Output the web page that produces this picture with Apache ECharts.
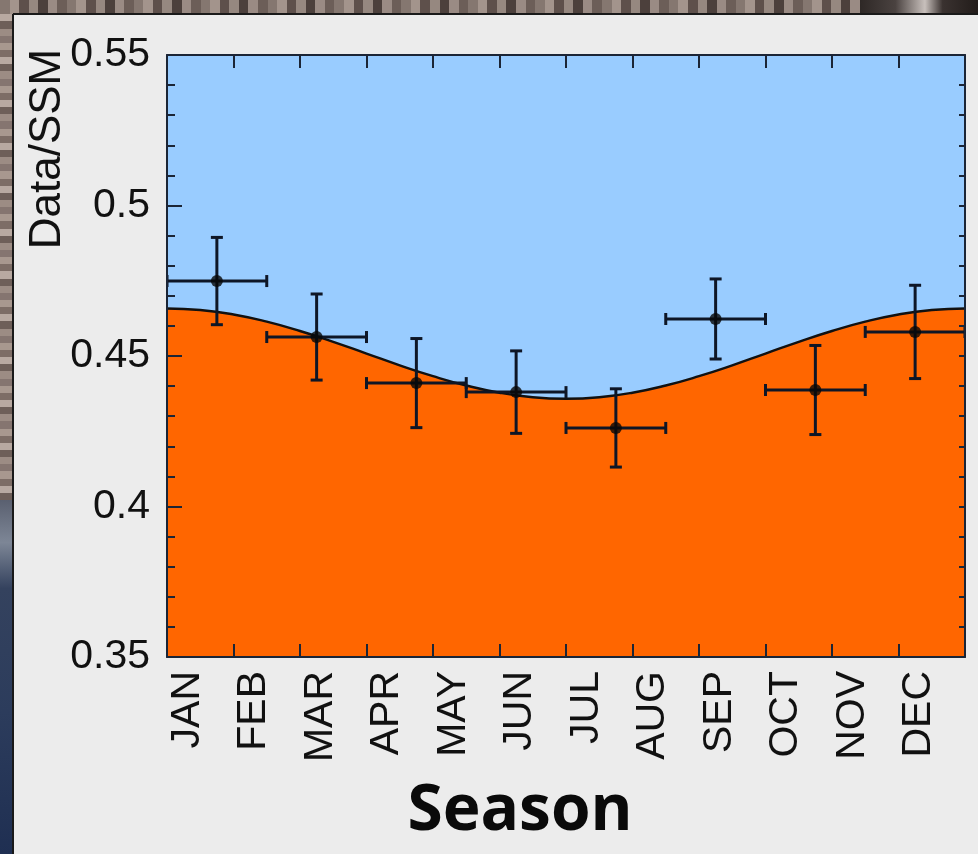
<!DOCTYPE html>
<html>
<head>
<meta charset="utf-8">
<script src="https://cdn.jsdelivr.net/npm/echarts@6/dist/echarts.min.js"></script>
<style>
html,body{margin:0;padding:0;background:#ececec;}
#chart{width:978px;height:854px;}
</style>
</head>
<body>
<div id="chart"></div>
<script>
// ---- data ----
const months = ['JAN','FEB','MAR','APR','MAY','JUN','JUL','AUG','SEP','OCT','NOV','DEC'];
const yTickLabels = ['0.35','0.4','0.45','0.5','0.55'];

// model curve (months since Jan 1 -> Data/SSM)
const curveX = [0,0.5,1,1.5,2,2.5,3,3.5,4,4.5,5,5.5,6,6.5,7,7.5,8,8.5,9,9.5,10,10.5,11,11.5,12];
const curveY = [0.4658,0.4653,0.4638,0.4614,0.4583,0.4547,0.4508,0.4469,0.4433,0.4402,0.4378,0.4363,0.4358,
                0.4363,0.4378,0.4402,0.4433,0.4469,0.4508,0.4547,0.4583,0.4614,0.4638,0.4653,0.4658];

// binned measurements
const binCenter = [0.75,2.25,3.75,5.25,6.75,8.25,9.75,11.25];
const binHalfWidth = [0.75,0.75,0.75,0.75,0.75,0.75,0.75,0.75];
const ratio = [0.4749,0.4563,0.4410,0.4380,0.4261,0.4623,0.4387,0.4580];
const ratioErr = [0.0145,0.0143,0.0148,0.0137,0.0130,0.0133,0.0148,0.0155];

const curveData = curveX.map((x,i)=>[x,curveY[i]]);
const pointData = binCenter.map((x,i)=>[x,ratio[i]]);
const errData = binCenter.map((x,i)=>[x,ratio[i],ratioErr[i],binHalfWidth[i]]);

const AX = '#1b2536';
const TXT = '#111111';

// decorative frame texture stops (deterministic)
function stripeStops(colors, n){
  const s=[];
  for(let i=0;i<n;i++){
    const c = colors[i % colors.length];
    s.push({offset:i/n, color:c});
    s.push({offset:(i+0.999)/n, color:c});
  }
  return s;
}
const leftTopStripes = stripeStops(['#a8988f','#7d6d66','#b8a9a1','#6e5f59','#9c8c84','#857570'], 70);
const topStripes = stripeStops(['#857770','#a3948c','#5e504b','#968880','#4c403c','#9a8b84','#6c5e58'], 90);

const chart = echarts.init(document.getElementById('chart'), null, {renderer:'canvas'});
chart.setOption({
  backgroundColor:'#ececec',
  animation:false,
  graphic:[
    // left strip: textured upper part, dark blue lower part
    {type:'rect', shape:{x:0,y:0,width:13,height:500}, style:{fill:{type:'linear',x:0,y:0,x2:0,y2:1,colorStops:leftTopStripes}}, silent:true},
    {type:'rect', shape:{x:0,y:500,width:13,height:354}, style:{fill:{type:'linear',x:0,y:0,x2:0,y2:1,colorStops:[
      {offset:0,color:'#5a6070'},{offset:0.12,color:'#7d8696'},{offset:0.25,color:'#34425e'},{offset:0.6,color:'#2c3c5c'},{offset:1,color:'#1f2f52'}]}}, silent:true},
    // top strip
    {type:'rect', shape:{x:0,y:0,width:860,height:14}, style:{fill:{type:'linear',x:0,y:0,x2:1,y2:0,colorStops:topStripes}}, silent:true},
    {type:'rect', shape:{x:860,y:0,width:118,height:14}, style:{fill:{type:'linear',x:0,y:0,x2:1,y2:0,colorStops:[
      {offset:0,color:'#2e2826'},{offset:0.3,color:'#4a4240'},{offset:0.55,color:'#c8c0bc'},{offset:0.7,color:'#3a3230'},{offset:1,color:'#221c1a'}]}}, silent:true},
    // panel border
    {type:'line', shape:{x1:13,y1:14,x2:978,y2:14}, style:{stroke:'#1a1a1a',lineWidth:2}, silent:true},
    {type:'line', shape:{x1:13,y1:14,x2:13,y2:854}, style:{stroke:'#1a1a1a',lineWidth:2}, silent:true},
    // y-axis title
    {type:'text', x:48, y:149, rotation:Math.PI/2, silent:true,
     style:{text:'Data/SSM', font:'normal 44px "Liberation Sans", Arial, sans-serif', fill:TXT, align:'center', verticalAlign:'middle'}},
    // x-axis title
    {type:'text', x:520, y:812, silent:true,
     style:{text:'Season', font:'bold 64px "Open Sans", "Noto Sans", sans-serif', fill:'#0a0a0a', align:'center', verticalAlign:'middle'}}
  ],
  grid:{left:167, top:55, width:798, height:602, show:true, backgroundColor:'#99ccff', borderWidth:0, outerBoundsMode:'none', containLabel:false},
  xAxis:[
    {type:'value', min:0, max:12, interval:1, position:'bottom', z:10,
     axisLine:{show:true, onZero:false, lineStyle:{color:AX, width:2}},
     axisTick:{show:true, inside:true, length:13, lineStyle:{color:AX, width:2}},
     splitLine:{show:false},
     axisLabel:{show:true, rotate:90, margin:14, verticalAlign:'top', color:TXT,
       fontSize:41, fontFamily:'"Liberation Sans", Arial, sans-serif',
       formatter:function(v){ const i=Math.round(v); return i<12 ? months[i] : ''; }}},
    {type:'value', min:0, max:12, interval:1, position:'top', z:10,
     axisLine:{show:true, onZero:false, lineStyle:{color:AX, width:2}},
     axisTick:{show:true, inside:true, length:13, lineStyle:{color:AX, width:2}},
     splitLine:{show:false}, axisLabel:{show:false}}
  ],
  yAxis:[
    {type:'value', min:0.35, max:0.55, interval:0.05, position:'left', z:10,
     axisLine:{show:true, onZero:false, lineStyle:{color:AX, width:2}},
     axisTick:{show:true, inside:true, length:15, lineStyle:{color:AX, width:2}},
     minorTick:{show:true, splitNumber:5, length:8, lineStyle:{color:AX, width:2}},
     splitLine:{show:false}, minorSplitLine:{show:false},
     axisLabel:{show:true, margin:17, color:TXT, fontSize:41, fontFamily:'"Liberation Sans", Arial, sans-serif',
       formatter:function(v){ return yTickLabels[Math.round((v-0.35)/0.05)] || ''; }}},
    {type:'value', min:0.35, max:0.55, interval:0.05, position:'right', z:10,
     axisLine:{show:true, onZero:false, lineStyle:{color:AX, width:2}},
     axisTick:{show:true, inside:true, length:6, lineStyle:{color:AX, width:2}},
     minorTick:{show:true, splitNumber:5, length:6, lineStyle:{color:AX, width:2}},
     splitLine:{show:false}, minorSplitLine:{show:false}, axisLabel:{show:false}}
  ],
  series:[
    {type:'line', xAxisIndex:0, yAxisIndex:0, data:curveData, smooth:true, symbol:'none', z:2,
     lineStyle:{color:'#111111', width:2.4},
     areaStyle:{color:'#ff6600', opacity:1, origin:'start'}},
    {type:'custom', xAxisIndex:0, yAxisIndex:0, data:errData, clip:true, z:4,
     renderItem:function(params, api){
       const m=api.value(0), v=api.value(1), e=api.value(2), hw=api.value(3);
       const top=api.coord([m,v+e]), bot=api.coord([m,v-e]);
       const l=api.coord([m-hw,v]), r=api.coord([m+hw,v]);
       const cap=6, st={stroke:'#0e1626', lineWidth:3};
       const ln=(x1,y1,x2,y2)=>({type:'line', shape:{x1,y1,x2,y2}, style:st});
       return {type:'group', children:[
         ln(top[0],top[1],bot[0],bot[1]),
         ln(top[0]-cap,top[1],top[0]+cap,top[1]),
         ln(bot[0]-cap,bot[1],bot[0]+cap,bot[1]),
         ln(l[0],l[1],r[0],r[1]),
         ln(l[0],l[1]-cap,l[0],l[1]+cap),
         ln(r[0],r[1]-cap,r[0],r[1]+cap)
       ]};
     }},
    {type:'scatter', xAxisIndex:0, yAxisIndex:0, data:pointData, symbol:'circle', symbolSize:12, z:5,
     itemStyle:{color:'#080808'}}
  ]
});
</script>
</body>
</html>
